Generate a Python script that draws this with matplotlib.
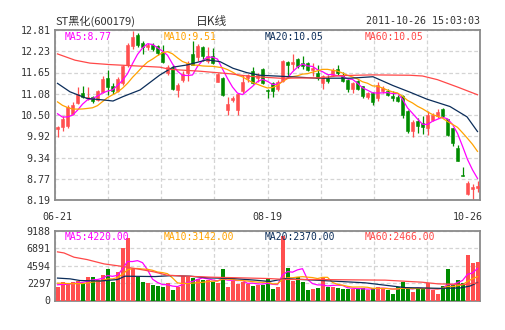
import numpy as np
import matplotlib
matplotlib.use('Agg')
import matplotlib.pyplot as plt

# daily K-line, ST黑化 (600179), 2011-06-21 .. 2011-10-26
opens = [10.13, 10.17, 10.21, 10.53, 10.83, 11.10, 10.96, 10.99, 10.92, 11.13,
         11.51, 11.28, 11.16, 11.36, 11.85, 12.38, 12.68, 12.46, 12.36, 12.41,
         12.37, 12.21, 11.64, 11.79, 11.18, 11.46, 11.64, 12.16, 12.07, 12.34,
         11.96, 12.09, 11.41, 11.50, 10.64, 10.90, 10.64, 11.14, 11.51, 11.69,
         11.50, 11.75, 11.19, 11.36, 11.20, 11.43, 11.95, 11.88, 12.02, 11.90,
         11.91, 11.73, 11.65, 11.38, 11.50, 11.59, 11.74, 11.60, 11.45, 11.20,
         11.42, 11.28, 10.98, 11.10, 10.96, 11.14, 11.16, 11.02, 10.98, 11.01,
         10.62, 10.06, 10.33, 10.28, 10.16, 10.37, 10.46, 10.66, 10.39, 10.15,
         9.60, 8.86, 8.36, 8.50, 8.52]
highs = [10.19, 10.46, 10.76, 10.86, 11.25, 11.30, 11.25, 11.02, 11.17, 11.55,
         11.73, 11.36, 11.52, 11.86, 12.45, 12.79, 12.74, 12.52, 12.45, 12.45,
         12.40, 12.41, 11.85, 11.85, 11.37, 11.69, 11.96, 12.50, 12.43, 12.37,
         12.34, 12.32, 11.64, 11.52, 10.99, 11.02, 11.10, 11.60, 11.62, 11.80,
         11.64, 11.78, 11.22, 11.40, 11.44, 11.99, 11.97, 12.16, 12.04, 12.10,
         11.94, 11.90, 11.86, 11.60, 11.58, 11.77, 11.86, 11.66, 11.47, 11.40,
         11.45, 11.30, 11.13, 11.12, 11.41, 11.28, 11.21, 11.14, 11.05, 11.03,
         10.64, 10.37, 10.42, 10.46, 10.60, 10.55, 10.67, 10.69, 10.40, 10.16,
         9.68, 9.10, 8.70, 8.62, 8.70]
lows = [9.89, 10.06, 10.15, 10.50, 10.80, 10.95, 10.92, 10.83, 10.88, 11.10,
        11.05, 11.08, 11.12, 11.32, 11.80, 12.30, 12.35, 12.15, 12.28, 12.25,
        12.12, 11.90, 11.60, 11.19, 10.99, 11.41, 11.43, 11.85, 11.96, 11.96,
        11.92, 11.89, 11.40, 11.01, 10.49, 10.86, 10.49, 11.10, 11.41, 11.34,
        11.41, 11.34, 10.96, 10.99, 11.15, 11.40, 11.50, 11.73, 11.78, 11.74,
        11.70, 11.55, 11.45, 11.22, 11.38, 11.55, 11.60, 11.40, 11.13, 11.09,
        11.17, 10.96, 10.94, 10.78, 10.89, 11.10, 11.02, 10.89, 10.85, 10.42,
        10.01, 9.89, 10.01, 9.98, 9.96, 10.35, 10.42, 10.44, 9.92, 9.65,
        9.24, 8.85, 8.33, 8.20, 8.42]
closes = [10.17, 10.40, 10.72, 10.78, 11.08, 10.99, 11.00, 10.87, 11.14, 11.49,
          11.25, 11.16, 11.48, 11.82, 12.40, 12.62, 12.41, 12.35, 12.40, 12.30,
          12.18, 11.94, 11.80, 11.22, 11.31, 11.62, 11.92, 11.87, 12.38, 12.09,
          12.11, 11.91, 11.61, 11.03, 10.80, 10.95, 11.08, 11.41, 11.58, 11.37,
          11.60, 11.37, 11.15, 11.16, 11.41, 11.97, 11.86, 11.95, 11.82, 11.82,
          11.72, 11.79, 11.50, 11.56, 11.42, 11.72, 11.63, 11.43, 11.20, 11.36,
          11.20, 11.01, 11.10, 10.85, 11.32, 11.23, 11.05, 10.96, 10.89, 10.51,
          10.06, 10.31, 10.19, 10.17, 10.49, 10.49, 10.58, 10.46, 9.96, 9.74,
          9.26, 8.85, 8.65, 8.55, 8.57]
volumes = [1840, 2410, 2150, 2500, 2590, 2280, 3070, 3150, 2720, 3370,
           4160, 2500, 3810, 6960, 8270, 4100, 3100, 2480, 2300, 2080,
           1900, 1730, 2350, 1420, 1750, 3220, 3150, 2950, 2800, 2700,
           2700, 2400, 2350, 4160, 1800, 2600, 2200, 2480, 2200, 1950,
           2080, 2100, 2990, 1540, 1730, 8470, 4310, 2590, 3070, 2500,
           1430, 1540, 1710, 3070, 1840, 1760, 1710, 1540, 1540, 1540,
           1500, 1580, 1320, 1710, 1840, 1700, 1400, 880, 1800, 2400,
           1490, 1060, 1540, 1490, 2300, 1320, 880, 1930, 4100, 2100,
           2760, 2250, 6050, 4950, 5090]

# last closes / volumes before 06-21 (for the short averages)
pre_close = [11.35, 11.30, 11.20, 11.10, 10.95, 10.85, 10.70, 10.55, 10.40]
pre_vol = [2600, 2500, 2700, 2400, 2300, 2200, 2000, 2100, 2200]

# long averages (candle index, value)
ma20_idx = [0, 2.5, 5.9, 9.1, 11.1, 13.1, 16.5, 20.5, 23.1, 25.9, 29.9, 32.5, 35.1,
            37.9, 40.5, 45.1, 51.9, 58.5, 63.1, 67.1, 70.5, 73.9, 78.5, 81.9, 84]
ma20_val = [11.36, 11.13, 10.95, 10.91, 10.88, 11.00, 11.18, 11.59, 11.80, 11.86, 12.00,
            11.95, 11.77, 11.65, 11.58, 11.55, 11.50, 11.50, 11.54, 11.30, 11.12, 10.93,
            10.73, 10.45, 10.05]
ma60_idx = [0, 3.5, 6.5, 10.5, 20.5, 22.5, 28.5, 34.5, 38.5, 44.5, 52.5, 56.5, 62.9,
            70.5, 73, 76, 80, 84]
ma60_val = [12.16, 11.99, 11.91, 11.87, 11.80, 11.74, 11.69, 11.62, 11.55, 11.50, 11.51,
            11.57, 11.59, 11.58, 11.56, 11.46, 11.26, 11.05]
vma20_idx = [0, 2.5, 4.5, 8.5, 12, 13.5, 19.5, 23, 26.5, 30, 35, 39.5, 42.5, 45.5,
             51.5, 61.5, 69.5, 76.5, 80.5, 82.5, 84]
vma20_val = [2950, 2850, 2630, 2560, 2760, 3200, 3150, 3280, 3200, 2980, 2900, 2680,
             2500, 2880, 2680, 2330, 1700, 1600, 1650, 1900, 2370]
vma60_idx = [0, 1.3, 3.3, 5.9, 9.3, 12.7, 16.7, 19.3, 21.9, 25.9, 30.7, 36.7, 42.3,
             45.5, 51.5, 65.5, 72.9, 76.1, 81.5, 84]
vma60_val = [6400, 6260, 5700, 5390, 4820, 4510, 4070, 3770, 3330, 3200, 3070, 2980,
             2890, 2770, 2760, 2680, 2410, 2190, 2110, 2300]

price_ticks = ['8.19', '8.77', '9.34', '9.92', '10.50', '11.08', '11.65', '12.23', '12.81']
vol_ticks = ['0', '2297', '4594', '6891', '9188']
date_labels = ['06-21', '08-19', '10-26']
date_idx = [0, 42, 84]
ma_names = ['MA5', 'MA10', 'MA20', 'MA60']
ma_price = ['8.77', '9.51', '10.05', '10.05']
ma_volume = ['4220.00', '3142.00', '2370.00', '2466.00']

RED = '#ff4f4f'
GREEN = '#008c00'
MA_COLORS = ['#ff00ff', '#ffa200', '#0b2d5a', '#ff4848']
GRID = '#d4d4d4'
TXT = '#333333'
MONO = 'DejaVu Sans Mono'
CJK = ['Noto Sans CJK SC', 'DejaVu Sans']


def moving_avg(values, prior, n):
    full = np.concatenate([prior, values])
    out = np.convolve(full, np.ones(n) / n, mode='valid')
    return out[-len(values):]


W, H = 505, 330


def box(l, t, r, b):
    return [l / W, 1 - b / H, (r - l) / W, (b - t) / H]


opens = np.array(opens)
closes = np.array(closes)
volumes = np.array(volumes, dtype=float)
n = len(closes)
x = np.arange(n)
cols = np.where(closes >= opens, RED, GREEN)

fig = plt.figure(figsize=(W / 100, H / 100), dpi=100)
ax = fig.add_axes(box(55, 30, 480, 200))
axv = fig.add_axes(box(55, 230.7, 480, 300.5))

for a in (ax, axv):
    a.set_xlim(-0.5, n - 0.5)
    a.set_axisbelow(True)
    a.set_xticks(np.linspace(-0.5, n - 0.5, 9))
    a.set_xticklabels([])
    a.tick_params(length=0, pad=3, labelsize=7.2, labelcolor=TXT)
    a.grid(True, color=GRID, lw=0.9, dashes=(3, 2))
    for s in a.spines.values():
        s.set_color('#8a8a8a')
        s.set_linewidth(1.3)
    for lab in a.get_yticklabels():
        lab.set_family(MONO)

# candles
ax.vlines(x, lows, highs, colors=cols, lw=0.9, zorder=2)
body_lo = np.minimum(opens, closes)
body_h = np.maximum(np.abs(closes - opens), 0.012)
ax.bar(x, body_h, bottom=body_lo, width=0.76, color=cols, edgecolor=cols,
       linewidth=0.4, zorder=3)

ax.plot(x, moving_avg(closes, pre_close, 5), color=MA_COLORS[0], lw=0.9, zorder=4)
ax.plot(x, moving_avg(closes, pre_close, 10), color=MA_COLORS[1], lw=0.9, zorder=4)
ax.plot(ma20_idx, ma20_val, color=MA_COLORS[2], lw=0.9, zorder=4)
ax.plot(ma60_idx, ma60_val, color=MA_COLORS[3], lw=0.9, zorder=4)

ax.set_ylim(8.19, 12.81)
ax.set_yticks(np.linspace(8.19, 12.81, 9))
ax.set_yticklabels(price_ticks, family=MONO)

# volume
axv.bar(x, volumes, width=0.8, color=cols, zorder=3)
axv.plot(x, moving_avg(volumes, pre_vol, 5), color=MA_COLORS[0], lw=0.9, zorder=4)
axv.plot(x, moving_avg(volumes, pre_vol, 10), color=MA_COLORS[1], lw=0.9, zorder=4)
axv.plot(vma20_idx, vma20_val, color=MA_COLORS[2], lw=0.9, zorder=4)
axv.plot(vma60_idx, vma60_val, color=MA_COLORS[3], lw=0.9, zorder=4)
axv.set_ylim(0, 9188)
axv.set_yticks(np.linspace(0, 9188, 5))
axv.set_yticklabels(vol_ticks, family=MONO)

# date labels under the price panel
for lab, i, ha in zip(date_labels, date_idx, ['center', 'center', 'right']):
    xi = i + 1.1 if ha == 'right' else i
    ax.text(xi, -0.098, lab, transform=ax.get_xaxis_transform(), ha=ha, va='center',
            fontsize=7.2, family=MONO, color=TXT)

# MA legends
for k in range(4):
    xp = [65, 164, 265, 365][k] / W
    fig.text(xp, 1 - 36.5 / H, f'{ma_names[k]}:{ma_price[k]}', color=MA_COLORS[k],
             fontsize=7.0, family=MONO, va='center', ha='left')
    fig.text(xp, 1 - 236.5 / H, f'{ma_names[k]}:{ma_volume[k]}', color=MA_COLORS[k],
             fontsize=7.0, family=MONO, va='center', ha='left')

# header
fig.text(55 / W, 1 - 21 / H, 'ST黑化(600179)', family=CJK, fontsize=8, color=TXT,
         va='center', ha='left')
fig.text(212 / W, 1 - 21 / H, '日K线', family=CJK, fontsize=8.5, color=TXT,
         va='center', ha='center')
fig.text(480 / W, 1 - 21 / H, '2011-10-26 15:03:03', family=MONO, fontsize=7.2,
         color=TXT, va='center', ha='right')

fig.savefig('out.png', dpi=100, facecolor='white')
